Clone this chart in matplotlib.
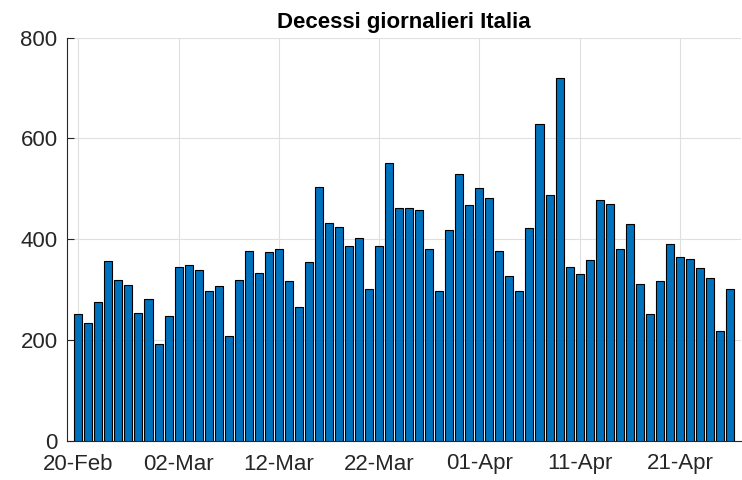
import numpy as np
import matplotlib
matplotlib.use("Agg")
import matplotlib.pyplot as plt
import matplotlib.dates as mdates

start_date = "2021-02-20"
deaths = [251, 233, 275, 357, 319, 309, 253, 281, 193, 247,
          344, 348, 340, 298, 307, 208, 319, 377, 333, 374,
          381, 318, 265, 355, 503, 432, 424, 387, 402, 301,
          387, 552, 461, 461, 458, 381, 298, 418, 530, 468,
          502, 482, 377, 327, 297, 422, 628, 488, 719, 345,
          332, 359, 477, 470, 381, 430, 311, 252, 317, 391,
          365, 361, 343, 323, 218, 302]
title = "Decessi giornalieri Italia"
yticks = [0, 200, 400, 600, 800]

dates = np.datetime64(start_date) + np.arange(len(deaths)).astype("timedelta64[D]")
xd = mdates.date2num(dates.astype("datetime64[s]").astype(object))

plt.rcParams["font.family"] = ["Liberation Sans", "DejaVu Sans"]
fig = plt.figure(figsize=(7.42, 4.8), dpi=100)
L, R, T, B = 67.3, 741.0, 37.5, 441.0
ax = fig.add_axes([L / 742, 1 - B / 480, (R - L) / 742, (B - T) / 480])

ax.bar(xd, deaths, width=0.8, color="#0072BD", edgecolor="black", linewidth=0.8, zorder=3)

ax.set_xlim(xd[0] - 1.1, xd[0] + 66.1)
ax.set_ylim(0, 800)
ax.set_yticks(yticks)
ax.set_xticks(xd[::10])
ax.xaxis.set_major_formatter(mdates.DateFormatter("%d-%b"))

ax.grid(True, color="#dfdfdf", linewidth=0.8, zorder=0)
ax.set_axisbelow(True)
for s in ["top", "right"]:
    ax.spines[s].set_visible(False)
for s in ["left", "bottom"]:
    ax.spines[s].set_color("#262626")
    ax.spines[s].set_linewidth(0.8)
ax.tick_params(axis="both", direction="in", length=5, width=0.8, colors="#262626",
               labelsize=16, labelcolor="#262626")
ax.tick_params(axis="x", pad=9)
ax.tick_params(axis="y", pad=7)
ax.set_title(title, fontsize=16, fontweight="bold", pad=7, color="black")

fig.savefig("out.png", dpi=100)
